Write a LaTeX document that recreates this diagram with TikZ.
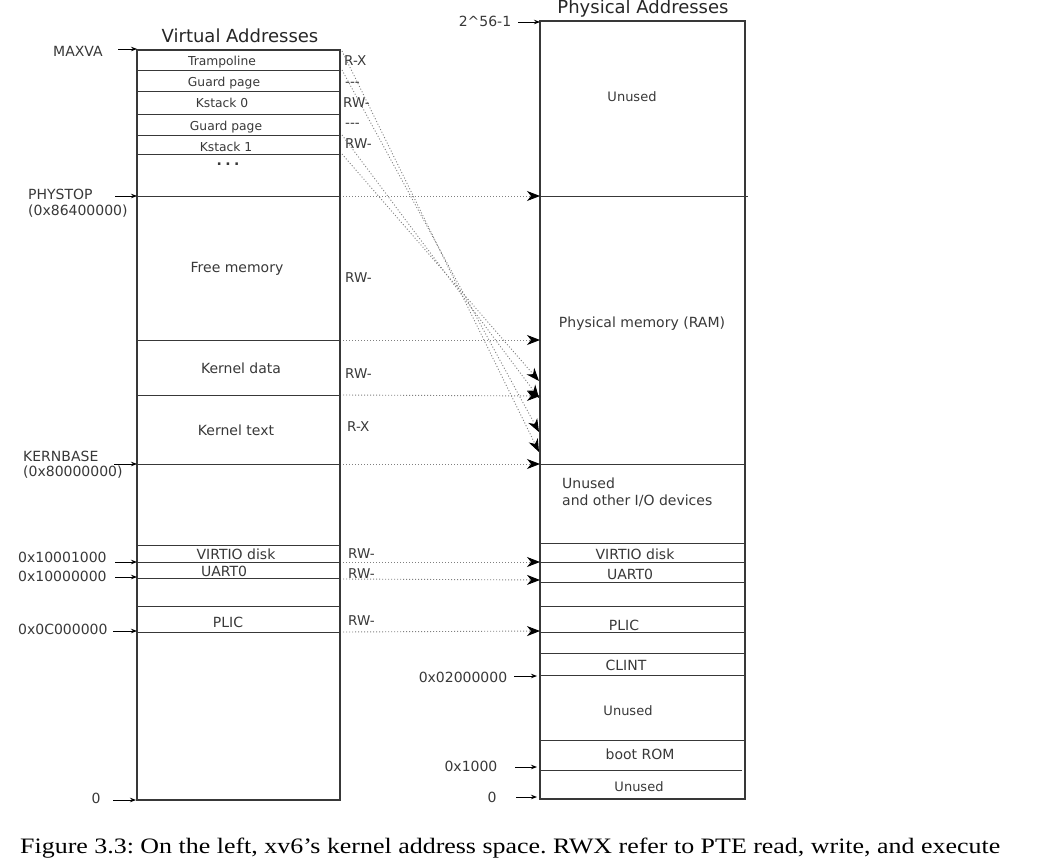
\documentclass[tikz,border=0pt]{standalone}
\usepackage{fontspec}
\usepackage{graphicx}
\setmainfont{Liberation Serif}
\newfontfamily\diag{DejaVu Sans}
\usetikzlibrary{arrows.meta}
\definecolor{ink}{gray}{0.22}
\definecolor{dotc}{gray}{0.5}
\begin{document}
\frenchspacing
\begin{tikzpicture}[x=1pt,y=-1pt,
  region/.style={draw=ink, line width=1.1pt},
  divider/.style={draw=ink, line width=0.9pt},
  lbl/.style={font=\diag\fontsize{14}{16}\selectfont, text=ink, inner sep=0pt, anchor=base},
  lblw/.style={lbl, anchor=base west},
  small/.style={lbl, font=\diag\fontsize{12.3}{14}\selectfont},
  unusedlbl/.style={lbl, font=\diag\fontsize{13}{15}\selectfont},
  perm/.style={lbl, anchor=base west, font=\diag\fontsize{13.5}{15}\selectfont},
  title/.style={lbl, font=\diag\fontsize{18}{21}\selectfont, text=black!85},
  ptr/.style={draw=black, line width=0.8pt, -{Stealth[length=6pt,width=4.5pt]}},
  map/.style={draw=dotc, line width=0.9pt, dash pattern=on 1pt off 2pt,
    -{Stealth[length=13pt,width=10pt,inset=4pt,color=black]}}
]
\useasboundingbox (0,0) rectangle (1042,859);

% ---------- virtual address space ----------
\draw[region] (137,50) rectangle (340,800);
\foreach \y in {70,91,114,135,154,196,340,395,464,545,562,578,606,632}
  \draw[divider] (137,\y) -- (340,\y);

\node[title] (vtitle) at (240,43) {Virtual Addresses};

\node[small] (tramp) at (222,66) {Trampoline};
\node[small] (guard0) at (224,87) {Guard page};
\node[small] (kst0) at (222,107) {Kstack 0};
\node[small] (guard1) at (226,130) {Guard page};
\node[small] (kst1) at (226,151) {Kstack 1};
\node[lbl, font=\diag\bfseries\fontsize{14}{16}\selectfont] (vdots) at (228,165) {.\kern3.5pt.\kern3.5pt.};
\node[lbl] (freemem) at (237,272) {Free memory};
\node[lbl] (kdata) at (241,373) {Kernel data};
\node[lbl] (ktext) at (236,435) {Kernel text};
\node[lbl] (vvirtio) at (236,559) {VIRTIO disk};
\node[lbl] (vuart) at (224,576) {UART0};
\node[lbl] (vplic) at (228,627) {PLIC};

% permissions
\node[perm] (p-tramp) at (344,66) {R-X};
\node[perm] (p-guard0) at (345,87) {---};
\node[perm] (p-kst0) at (343,107) {RW-};
\node[perm] (p-guard1) at (345,128) {---};
\node[perm] (p-kst1) at (345,148) {RW-};
\node[perm] (p-free) at (345,282) {RW-};
\node[perm] (p-kdata) at (345,378) {RW-};
\node[perm] (p-ktext) at (347,431) {R-X};
\node[perm] (p-virtio) at (348,558) {RW-};
\node[perm] (p-uart) at (348,578) {RW-};
\node[perm] (p-plic) at (348,625) {RW-};

% address labels on the left
\node[lbl] (maxva) at (78,57) {MAXVA};
\node[lblw] (phystop) at (28,199) {PHYSTOP};
\node[lblw] (phystopv) at (28,215) {(0x86400000)};
\node[lblw] (kernbase) at (23,461) {KERNBASE};
\node[lblw] (kernbasev) at (23,476) {(0x80000000)};
\node[lblw] (va-virtio) at (18,562) {0x10001000};
\node[lblw] (va-uart) at (18,581) {0x10000000};
\node[lblw] (va-plic) at (18,634) {0x0C000000};
\node[lbl] (va-zero) at (96,803) {0};

\coordinate (s-maxva) at (118,49);   \coordinate (e-maxva) at (137,49);
\coordinate (s-phystop) at (115,196); \coordinate (e-phystop) at (137,196);
\coordinate (s-kernbase) at (114,464); \coordinate (e-kernbase) at (137,464);
\coordinate (s-vvirtio) at (115,562); \coordinate (e-vvirtio) at (137,562);
\coordinate (s-vuart) at (115,577);  \coordinate (e-vuart) at (137,577);
\coordinate (s-vplic) at (113,631);  \coordinate (e-vplic) at (137,631);
\coordinate (s-vzero) at (113,800);  \coordinate (e-vzero) at (136,800);
\foreach \n in {maxva,phystop,kernbase,vvirtio,vuart,vplic,vzero}
  \draw[ptr] (s-\n) -- (e-\n);

% ---------- physical address space ----------
\draw[region] (540,21) rectangle (745,799);
\draw[divider] (540,196) -- (748,196);
\foreach \y in {464,543,562,582,606,632,653,675,740}
  \draw[divider] (540,\y) -- (745,\y);
\draw[divider] (541,770) -- (742,770);

\node[title] (ptitle) at (643,14) {Physical Addresses};

\node[unusedlbl] (p-unused-top) at (632,102) {Unused};
\node[lbl] (ram) at (642,327) {Physical memory (RAM)};
\node[lblw] (p-io1) at (562,488) {Unused};
\node[lblw] (p-io2) at (562,505) {and other I/O devices};
\node[lbl] (pvirtio) at (635,559) {VIRTIO disk};
\node[lbl] (puart) at (630,579) {UART0};
\node[lbl] (pplic) at (624,630) {PLIC};
\node[lbl] (pclint) at (626,670) {CLINT};
\node[unusedlbl] (p-unused-mid) at (628,715) {Unused};
\node[lbl] (bootrom) at (640,759) {boot ROM};
\node[unusedlbl] (p-unused-low) at (639,791) {Unused};

\node[lbl] (pa-top) at (485,27) {2\textasciicircum 56-1};
\node[lbl] (pa-clint) at (463,682) {0x02000000};
\node[lbl] (pa-boot) at (471,771) {0x1000};
\node[lbl] (pa-zero) at (492,802) {0};

\coordinate (s-ptop) at (518,22);  \coordinate (e-ptop) at (540,22);
\coordinate (s-pclint) at (514,676); \coordinate (e-pclint) at (537,676);
\coordinate (s-pboot) at (515,767); \coordinate (e-pboot) at (537,767);
\coordinate (s-pzero) at (516,797); \coordinate (e-pzero) at (537,797);
\foreach \n in {ptop,pclint,pboot,pzero}
  \draw[ptr] (s-\n) -- (e-\n);

% ---------- mappings ----------
\coordinate (m-phystop) at (343,196);  \coordinate (t-phystop) at (540,196);
\coordinate (m-free) at (343,340);     \coordinate (t-free) at (540,340);
\coordinate (m-kdata) at (343,395);    \coordinate (t-kdata) at (540,396);
\coordinate (m-kbase) at (343,464);    \coordinate (t-kbase) at (540,464);
\coordinate (m-virtio) at (343,562);   \coordinate (t-virtio) at (540,562);
\coordinate (m-uart) at (343,579);     \coordinate (t-uart) at (540,580);
\coordinate (m-plic) at (343,632);     \coordinate (t-plic) at (540,631);
\foreach \n in {phystop,free,kdata,kbase,virtio,uart,plic}
  \draw[map] (m-\n) -- (t-\n);

% trampoline and kernel stacks mapped into RAM
\coordinate (d1) at (342,51);  \coordinate (r1) at (539,452);
\coordinate (d2) at (342,70);  \coordinate (r2) at (539,432);
\coordinate (d3) at (342,135); \coordinate (r3) at (539,398);
\coordinate (d4) at (342,154); \coordinate (r4) at (539,381);
\foreach \i in {1,...,4}
  \draw[map] (d\i) -- (r\i);

% ---------- caption ----------
\node[anchor=base west, inner sep=0pt, font=\fontsize{22.5}{26}\selectfont] (caption) at (20,853)
  {\resizebox{980pt}{15.5pt}{Figure 3.3: On the left, xv6’s kernel address space. RWX refer to PTE read, write, and execute}};
\end{tikzpicture}
\end{document}
